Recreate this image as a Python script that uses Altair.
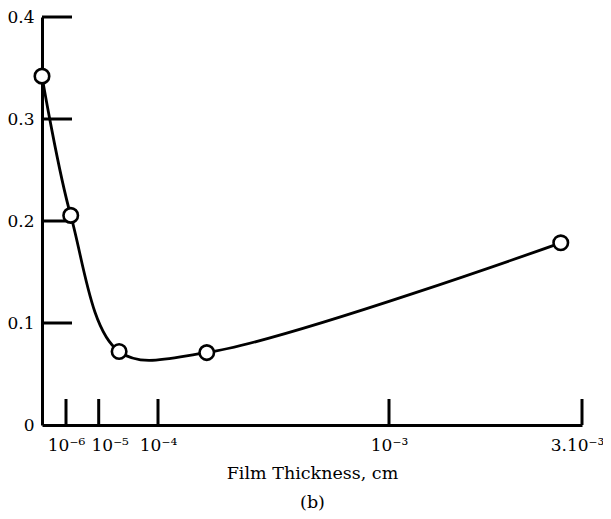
import altair as alt
import pandas as pd

# data
thickness = [2.0e-7, 2.3e-6, 4.1e-5, 2.9e-4, 2.78e-3]   # cm
value = [0.342, 0.2055, 0.072, 0.071, 0.1786]

x_ticks = [1e-6, 1e-5, 1e-4, 1e-3, 3e-3]
x_labels = ["10⁻⁶", "10⁻⁵", "10⁻⁴", "10⁻³", "3.10⁻³"]
y_ticks = [0.1, 0.2, 0.3, 0.4]
y_labels_vals = [0, 0.1, 0.2, 0.3, 0.4]

# the hand-drawn axis is not uniform: piecewise scale
x_domain = [2.0e-7] + x_ticks
x_range = [0, 24, 56.7, 116, 347, 540]

FONT = "DejaVu Serif"
W, H = 540, 408

pts = pd.DataFrame({"t": thickness, "v": value})
xt = pd.DataFrame({"t": x_ticks})
yt = pd.DataFrame({"v": y_ticks})

xscale = alt.Scale(type="linear", domain=x_domain, range=x_range, nice=False, zero=False)
yscale = alt.Scale(domain=[0, 0.4], nice=False, zero=True)

label_expr = ""
for val, lab in zip(x_ticks[:-1], x_labels[:-1]):
    label_expr += f"abs(datum.value - {val}) < {val/100} ? '{lab}' : "
label_expr += f"'{x_labels[-1]}'"

x_axis = alt.Axis(
    values=x_ticks, labelExpr=label_expr, ticks=False, grid=False,
    domainColor="black", domainWidth=3, labelFont=FONT, labelFontSize=17,
    labelColor="black", labelPadding=12, labelFlush=False,
    labelOffset={"condition": [
        {"test": "abs(datum.value - 1e-5) < 1e-7", "value": 11},
        {"test": "abs(datum.value - 3e-3) < 1e-5", "value": -5},
    ], "value": 0},
    title=["Film Thickness, cm", "(b)"], titleFont=FONT, titleFontSize=17.5,
    titleFontWeight="normal", titleColor="black", titleLineHeight=29, titlePadding=11,
)
y_axis = alt.Axis(
    values=y_labels_vals, labelExpr="datum.value == 0 ? '0' : format(datum.value, '.1f')",
    ticks=False, grid=False, domainColor="black", domainWidth=3,
    labelFont=FONT, labelFontSize=17, labelColor="black", labelPadding=8, title=None,
)

line = alt.Chart(pts).mark_line(
    interpolate="catmull-rom", color="black", strokeWidth=2.8
).encode(
    x=alt.X("t:Q", scale=xscale, axis=x_axis),
    y=alt.Y("v:Q", scale=yscale, axis=y_axis),
)

points = alt.Chart(pts).mark_point(
    shape="circle", filled=False, fill="white", fillOpacity=1, color="black",
    strokeWidth=2.6, size=210, opacity=1
).encode(
    x=alt.X("t:Q", scale=xscale, axis=x_axis),
    y=alt.Y("v:Q", scale=yscale, axis=y_axis),
)

xtick_rules = alt.Chart(xt).mark_rule(color="black", strokeWidth=3).encode(
    x=alt.X("t:Q", scale=xscale, axis=x_axis),
    y=alt.value(H),
    y2=alt.value(H - 26),
)

ytick_rules = alt.Chart(yt).mark_rule(color="black", strokeWidth=3).encode(
    y=alt.Y("v:Q", scale=yscale, axis=y_axis),
    x=alt.value(0),
    x2=alt.value(30),
)

chart = alt.layer(line, xtick_rules, ytick_rules, points).properties(
    width=W, height=H,
    autosize=alt.AutoSizeParams(type="none"),
    padding={"left": 34, "top": 9, "right": 21, "bottom": 86},
).configure(background="white").configure_view(stroke=None)

chart.save("out.html", embed_options={"renderer": "svg", "actions": False})
